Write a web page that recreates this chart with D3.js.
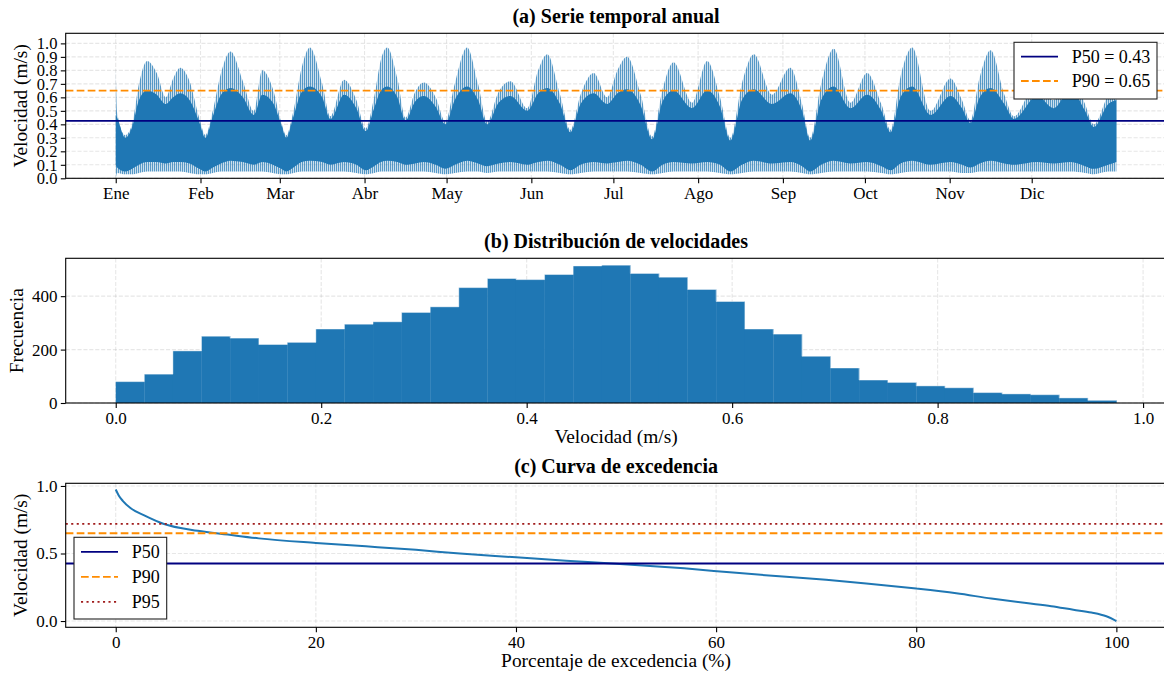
<!DOCTYPE html>
<html>
<head>
<meta charset="utf-8">
<script src="https://cdn.jsdelivr.net/npm/d3@7"></script>
<style>
  body { margin: 0; background: #fff; }
  svg { display: block; font-family: "Liberation Serif", "Times New Roman", serif; }
</style>
</head>
<body>
<div id="chart"></div>
<script>
// (a) hourly series read off as envelope keypoints (day of year):
// spike tops, dense band top, dense band bottom, spike bottoms
const tsDays = [0, 0.5, 3.5, 6, 8.5, 11.5, 15, 18.3, 21, 23.6, 27, 30.5, 32.8, 35.5, 38.5, 42,
  46.5, 50.5, 53.6, 57.5, 60.5, 62.4, 65, 68, 71, 75.5, 78.5, 83.5, 88, 91.4, 94.5, 97, 99.3,
  103, 106, 109.5, 112.7, 117, 120.6, 124, 128.5, 132.5, 135.8, 140, 144.4, 150.5, 154.5,
  157.8, 162.5, 166.3, 170, 174.8, 179.7, 183.5, 187, 192, 196.2, 200, 204, 210.8, 216.3,
  221, 224.8, 229, 233.4, 240, 246.7, 251, 254, 258, 262.6, 268.7, 274.8, 280, 283.4, 287,
  291.3, 298, 305.3, 309.5, 312.6, 316, 320, 325, 328.5, 337, 343, 349.2, 354.5, 357.7, 363,
  365.96];
const tsMax = [0.83, 0.49, 0.32, 0.40, 0.70, 0.87, 0.78, 0.60, 0.74, 0.82, 0.72, 0.45, 0.32, 0.50,
  0.78, 0.94, 0.72, 0.50, 0.80, 0.66, 0.42, 0.32, 0.50, 0.82, 0.97, 0.70, 0.46, 0.73, 0.58,
  0.37, 0.60, 0.88, 0.97, 0.74, 0.45, 0.64, 0.71, 0.60, 0.42, 0.70, 0.97, 0.70, 0.42, 0.64,
  0.72, 0.52, 0.80, 0.92, 0.62, 0.36, 0.62, 0.78, 0.60, 0.80, 0.90, 0.62, 0.31, 0.66, 0.86,
  0.56, 0.87, 0.60, 0.30, 0.70, 0.92, 0.62, 0.82, 0.55, 0.30, 0.70, 0.96, 0.56, 0.78, 0.55,
  0.36, 0.75, 0.97, 0.50, 0.74, 0.58, 0.43, 0.75, 0.95, 0.62, 0.46, 0.72, 0.58, 0.88, 0.55,
  0.40, 0.62, 0.70];
const tsBody = [0.47, 0.45, 0.30, 0.38, 0.58, 0.65, 0.62, 0.55, 0.60, 0.63, 0.58, 0.42, 0.30, 0.46,
  0.62, 0.67, 0.60, 0.47, 0.62, 0.56, 0.40, 0.30, 0.46, 0.64, 0.68, 0.60, 0.44, 0.62, 0.52,
  0.35, 0.52, 0.65, 0.68, 0.60, 0.43, 0.57, 0.61, 0.53, 0.40, 0.58, 0.68, 0.58, 0.40, 0.56,
  0.61, 0.50, 0.63, 0.67, 0.55, 0.34, 0.55, 0.63, 0.55, 0.63, 0.66, 0.54, 0.29, 0.57, 0.65,
  0.52, 0.65, 0.53, 0.28, 0.58, 0.66, 0.55, 0.63, 0.50, 0.28, 0.58, 0.68, 0.52, 0.62, 0.50,
  0.34, 0.60, 0.68, 0.47, 0.61, 0.52, 0.41, 0.60, 0.67, 0.55, 0.44, 0.61, 0.52, 0.66, 0.50,
  0.38, 0.55, 0.58];
const tsLow = [0.10, 0.08, 0.05, 0.07, 0.10, 0.12, 0.12, 0.11, 0.12, 0.12, 0.11, 0.07, 0.05, 0.08,
  0.11, 0.13, 0.12, 0.10, 0.12, 0.10, 0.07, 0.05, 0.08, 0.12, 0.13, 0.12, 0.10, 0.12, 0.10,
  0.06, 0.09, 0.12, 0.13, 0.12, 0.10, 0.11, 0.12, 0.10, 0.07, 0.10, 0.13, 0.11, 0.09, 0.11,
  0.12, 0.10, 0.12, 0.13, 0.10, 0.06, 0.10, 0.12, 0.11, 0.12, 0.13, 0.10, 0.05, 0.10, 0.12,
  0.11, 0.12, 0.10, 0.05, 0.10, 0.13, 0.11, 0.12, 0.09, 0.05, 0.10, 0.13, 0.11, 0.12, 0.09,
  0.06, 0.11, 0.13, 0.10, 0.12, 0.10, 0.08, 0.11, 0.13, 0.11, 0.10, 0.12, 0.11, 0.12, 0.09,
  0.07, 0.10, 0.12];
const tsMin = [0.00, 0.04, 0.03, 0.03, 0.04, 0.05, 0.05, 0.05, 0.05, 0.05, 0.04, 0.03, 0.03, 0.04,
  0.05, 0.05, 0.05, 0.05, 0.05, 0.04, 0.03, 0.03, 0.04, 0.05, 0.05, 0.05, 0.05, 0.05, 0.04,
  0.03, 0.04, 0.05, 0.05, 0.05, 0.05, 0.05, 0.05, 0.04, 0.03, 0.04, 0.05, 0.05, 0.04, 0.05,
  0.05, 0.05, 0.05, 0.05, 0.04, 0.03, 0.04, 0.05, 0.05, 0.05, 0.05, 0.04, 0.03, 0.04, 0.05,
  0.05, 0.05, 0.04, 0.03, 0.04, 0.05, 0.05, 0.05, 0.04, 0.03, 0.04, 0.05, 0.05, 0.05, 0.04,
  0.03, 0.04, 0.05, 0.05, 0.05, 0.04, 0.04, 0.05, 0.05, 0.05, 0.05, 0.05, 0.05, 0.05, 0.04,
  0.03, 0.05, 0.05];
const monthStarts = [0, 31, 60, 91, 121, 152, 182, 213, 244, 274, 305, 335];
const monthLabels = ['Ene', 'Feb', 'Mar', 'Abr', 'May', 'Jun', 'Jul', 'Ago', 'Sep', 'Oct', 'Nov', 'Dic'];

const p50 = 0.426;
const p90 = 0.65;
const p95 = 0.72;

// (b) histogram, 35 bins between histMin and histMax
const histCounts = [80, 108, 195, 250, 243, 219, 227, 277, 295, 304, 339, 360, 432, 466, 462, 481,
  513, 516, 485, 471, 425, 380, 277, 258, 175, 131, 86, 77, 64, 57, 39, 34, 31, 19, 10];
const histMin = 0;
const histMax = 0.974;

// (c) exceedance curve
const excPct = [0, 0.3, 0.7, 1.5, 2.9, 4.75, 8.2, 11.2, 14.3, 20, 25, 30, 34.4, 40, 45, 50, 56.8,
  62, 67, 71, 75, 80, 84, 87.5, 91, 93.5, 95.7, 97.5, 99, 100];
const excVel = [0.974, 0.93, 0.89, 0.835, 0.78, 0.72, 0.668, 0.64, 0.612, 0.578, 0.553, 0.527, 0.50,
  0.472, 0.446, 0.425, 0.39, 0.357, 0.327, 0.305, 0.278, 0.24, 0.205, 0.167, 0.133, 0.11,
  0.0835, 0.063, 0.035, 0.0];

const W = 1164, H = 678;
const left = 65.7, right = 1166.4;
const blue = '#1f77b4', navy = '#000080', orange = '#ff8c00', red = '#a01c1c';
const tickFont = 17, labelFont = 19.4, titleFont = 20;

const svg = d3.select('#chart').append('svg')
  .attr('width', W)
  .attr('height', H);

svg.append('defs').append('pattern')
    .attr('id', 'spikes')
    .attr('patternUnits', 'userSpaceOnUse')
    .attr('width', 2)
    .attr('height', 10)
  .append('rect')
    .attr('width', 1.3)
    .attr('height', 10)
    .attr('fill', blue)
    .attr('fill-opacity', 0.75);

function panel(opts) {
  const { x, y, top, bottom, xTicks, xFmt, yTicks, yFmt, yTickFont } = opts;
  const g = svg.append('g');
  const grid = g.append('g')
    .attr('stroke', '#b0b0b0')
    .attr('stroke-opacity', 0.3)
    .attr('stroke-width', 1.1)
    .attr('stroke-dasharray', '4.1,1.8');
  grid.selectAll('.gx').data(xTicks).enter().append('line')
    .attr('x1', d => x(d)).attr('x2', d => x(d))
    .attr('y1', top).attr('y2', bottom);
  grid.selectAll('.gy').data(yTicks).enter().append('line')
    .attr('x1', left).attr('x2', right)
    .attr('y1', d => y(d)).attr('y2', d => y(d));

  const data = g.append('g');

  const ax = g.append('g')
    .attr('transform', `translate(0,${bottom})`)
    .call(d3.axisBottom(x).tickValues(xTicks).tickFormat(xFmt).tickSize(4.9).tickPadding(3.6));
  const ay = g.append('g')
    .attr('transform', `translate(${left},0)`)
    .call(d3.axisLeft(y).tickValues(yTicks).tickFormat(yFmt).tickSize(4.9).tickPadding(3.4));
  [[ax, tickFont], [ay, yTickFont || tickFont]].forEach(([a, fs]) => {
    a.attr('font-family', null);
    a.select('.domain').remove();
    a.selectAll('line').attr('stroke', '#000').attr('stroke-width', 1.1);
    a.selectAll('text')
      .attr('fill', '#000')
      .style('font-family', '"Liberation Serif", "Times New Roman", serif')
      .style('font-size', fs + 'px');
  });

  g.append('rect')
    .attr('x', left).attr('y', top)
    .attr('width', right - left).attr('height', bottom - top)
    .attr('fill', 'none')
    .attr('stroke', '#000')
    .attr('stroke-width', 1.1);

  return { g, data };
}

function title(text, yPos) {
  svg.append('text')
    .attr('x', (left + right) / 2)
    .attr('y', yPos)
    .attr('text-anchor', 'middle')
    .attr('font-weight', 'bold')
    .style('font-size', titleFont + 'px')
    .text(text);
}

function yLabel(text, xPos, cy) {
  svg.append('text')
    .attr('transform', `translate(${xPos},${cy}) rotate(-90)`)
    .attr('text-anchor', 'middle')
    .style('font-size', labelFont + 'px')
    .text(text);
}

function xLabel(text, yPos) {
  svg.append('text')
    .attr('x', (left + right) / 2)
    .attr('y', yPos)
    .attr('text-anchor', 'middle')
    .style('font-size', labelFont + 'px')
    .text(text);
}

function hline(sel, y, val, color, dash) {
  sel.append('line')
    .attr('x1', left).attr('x2', right)
    .attr('y1', y(val)).attr('y2', y(val))
    .attr('stroke', color)
    .attr('stroke-width', 1.8)
    .attr('stroke-dasharray', dash);
}

function legend(x0, y0, w, h, items, textX) {
  const lg = svg.append('g');
  lg.append('rect')
    .attr('x', x0).attr('y', y0).attr('width', w).attr('height', h)
    .attr('fill', '#fff')
    .attr('stroke', '#222')
    .attr('stroke-width', 1.1);
  items.forEach(it => {
    lg.append('line')
      .attr('x1', x0 + 7).attr('x2', x0 + 44)
      .attr('y1', it.y).attr('y2', it.y)
      .attr('stroke', it.color)
      .attr('stroke-width', 1.8)
      .attr('stroke-dasharray', it.dash);
    lg.append('text')
      .attr('x', textX)
      .attr('y', it.y + 6.2)
      .style('font-size', '18px')
      .text(it.label);
  });
}

// ---- (a) Serie temporal anual
const lastDay = tsDays[tsDays.length - 1];
const xA = d3.scaleLinear().domain([-0.05 * lastDay, 1.05 * lastDay]).range([left, right]);
const yA = d3.scaleLinear().domain([0, 1.0747]).range([178.3, 33.3]);
const pa = panel({
  x: xA, y: yA, top: 33.3, bottom: 178.3,
  xTicks: monthStarts, xFmt: (d, i) => monthLabels[i],
  yTicks: d3.range(0, 11).map(i => i / 10), yFmt: d3.format('.1f'), yTickFont: 16.5
});
const ts = tsDays.map((d, i) => ({ d, max: tsMax[i], body: tsBody[i], low: tsLow[i], min: tsMin[i] }));
const area = (lo, hi) => d3.area()
  .x(p => xA(p.d))
  .y0(p => yA(p[lo]))
  .y1(p => yA(p[hi]))
  .curve(d3.curveMonotoneX);
pa.data.append('path').datum(ts).attr('d', area('min', 'max')).attr('fill', 'url(#spikes)');
pa.data.append('path').datum(ts).attr('d', area('low', 'body')).attr('fill', blue);
hline(pa.data, yA, p50, navy, null);
hline(pa.data, yA, p90, orange, '7.7,3.3');
title('(a) Serie temporal anual', 22.5);
yLabel('Velocidad (m/s)', 27, 105.8);
legend(1014, 42.3, 143, 56.7, [
  { y: 56.7, color: navy, dash: null, label: `P50 = ${p50.toFixed(2)}` },
  { y: 81, color: orange, dash: '7.7,3.3', label: `P90 = ${p90.toFixed(2)}` }
], 1071.7);

// ---- (b) Distribución de velocidades
const binW = (histMax - histMin) / histCounts.length;
const xB = d3.scaleLinear()
  .domain([histMin - 0.05 * (histMax - histMin), histMax + 0.05 * (histMax - histMin)])
  .range([left, right]);
const yB = d3.scaleLinear().domain([0, d3.max(histCounts) * 1.05]).range([403, 258.3]);
const pb = panel({
  x: xB, y: yB, top: 258.3, bottom: 403,
  xTicks: [0, 0.2, 0.4, 0.6, 0.8, 1.0], xFmt: d3.format('.1f'),
  yTicks: [0, 200, 400], yFmt: d3.format('d')
});
pb.data.selectAll('rect').data(histCounts).enter().append('rect')
  .attr('x', (c, i) => xB(histMin + i * binW))
  .attr('width', (c, i) => xB(histMin + (i + 1) * binW) - xB(histMin + i * binW) + 0.3)
  .attr('y', c => yB(c))
  .attr('height', c => yB(0) - yB(c))
  .attr('fill', blue);
pb.data.append('path')
  .datum(histCounts)
  .attr('d', d3.line()
    .x((c, i) => xB(histMin + i * binW))
    .y(c => yB(c))
    .curve(d3.curveStepAfter)(histCounts.concat([histCounts[histCounts.length - 1]])))
  .attr('fill', 'none')
  .attr('stroke', '#fff')
  .attr('stroke-opacity', 0.6)
  .attr('stroke-width', 0.7);
title('(b) Distribución de velocidades', 247.5);
yLabel('Frecuencia', 22.5, 330.7);
xLabel('Velocidad (m/s)', 443);

// ---- (c) Curva de excedencia
const xC = d3.scaleLinear().domain([-5, 105]).range([left, right]);
const yC = d3.scaleLinear().domain([-0.0487, 1.0235]).range([627.6, 482.8]);
const pc = panel({
  x: xC, y: yC, top: 483.3, bottom: 627.3,
  xTicks: [0, 20, 40, 60, 80, 100], xFmt: d3.format('d'),
  yTicks: [0, 0.5, 1.0], yFmt: d3.format('.1f')
});
const exc = excPct.map((p, i) => [p, excVel[i]]);
pc.data.append('path').datum(exc)
  .attr('d', d3.line().x(p => xC(p[0])).y(p => yC(p[1])).curve(d3.curveMonotoneX))
  .attr('fill', 'none')
  .attr('stroke', blue)
  .attr('stroke-width', 2);
hline(pc.data, yC, p50, navy, null);
hline(pc.data, yC, p90, orange, '7.7,3.3');
hline(pc.data, yC, p95, red, '2.1,3.4');
title('(c) Curva de excedencia', 472.5);
yLabel('Velocidad (m/s)', 27, 555.3);
xLabel('Porcentaje de excedencia (%)', 667);
legend(74, 537.3, 92.7, 81.7, [
  { y: 551.8, color: navy, dash: null, label: 'P50' },
  { y: 576.8, color: orange, dash: '7.7,3.3', label: 'P90' },
  { y: 601.8, color: red, dash: '2.1,3.4', label: 'P95' }
], 131.7);
</script>
</body>
</html>
